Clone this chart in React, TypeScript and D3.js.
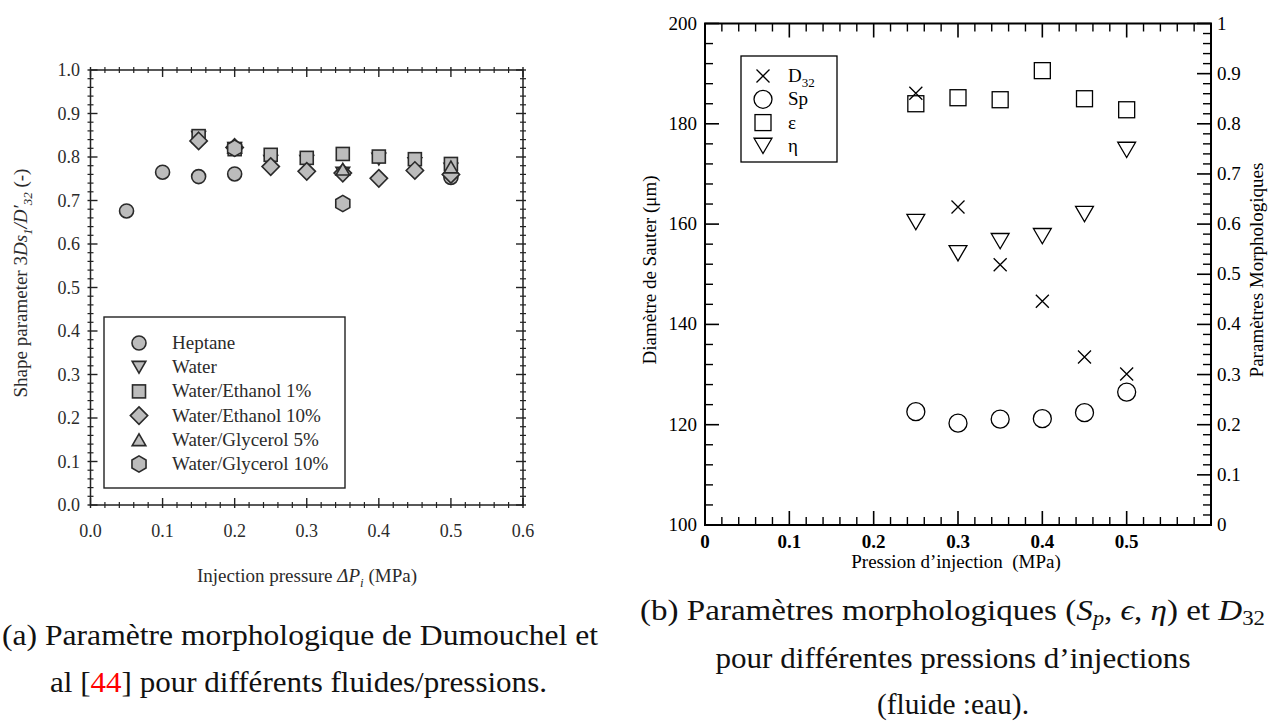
import React from 'react';
import * as d3 from 'd3';

// ---------- Data: chart (a) ----------
const heptaneX = [0.05, 0.1, 0.15, 0.2, 0.5];
const heptaneY = [0.676, 0.765, 0.755, 0.761, 0.753];
const waterX = [0.15, 0.2, 0.25, 0.3, 0.35, 0.4, 0.45, 0.5];
const waterY = [0.845, 0.82, 0.79, 0.79, 0.763, 0.795, 0.785, 0.772];
const ethanol1X = [0.15, 0.2, 0.25, 0.3, 0.35, 0.4, 0.45, 0.5];
const ethanol1Y = [0.848, 0.818, 0.805, 0.798, 0.807, 0.801, 0.795, 0.784];
const ethanol10X = [0.15, 0.2, 0.25, 0.3, 0.35, 0.4, 0.45, 0.5];
const ethanol10Y = [0.837, 0.822, 0.778, 0.767, 0.763, 0.751, 0.769, 0.76];
const glycerol5X = [0.2, 0.35, 0.5];
const glycerol5Y = [0.822, 0.772, 0.777];
const glycerol10X = [0.2, 0.35];
const glycerol10Y = [0.82, 0.693];
const legendA = ['Heptane', 'Water', 'Water/Ethanol 1%', 'Water/Ethanol 10%', 'Water/Glycerol 5%', 'Water/Glycerol 10%'];
const shapesA = ['circle', 'triDown', 'square', 'diamond', 'triUp', 'hexagon'];
const xTicksA = [0, 0.1, 0.2, 0.3, 0.4, 0.5, 0.6];
const yTicksA = [0, 0.1, 0.2, 0.3, 0.4, 0.5, 0.6, 0.7, 0.8, 0.9, 1.0];

// ---------- Data: chart (b) ----------
const pressureB = [0.25, 0.3, 0.35, 0.4, 0.45, 0.5];
const d32 = [186.1, 163.4, 151.9, 144.6, 133.5, 130.1];
const sp = [0.226, 0.203, 0.211, 0.212, 0.224, 0.265];
const eps = [0.84, 0.852, 0.848, 0.906, 0.85, 0.828];
const eta = [0.604, 0.542, 0.566, 0.576, 0.62, 0.748];
const xTicksB = [0, 0.1, 0.2, 0.3, 0.4, 0.5];
const yLeftTicksB = [100, 120, 140, 160, 180, 200];
const yRightTicksB = [0, 0.1, 0.2, 0.3, 0.4, 0.5, 0.6, 0.7, 0.8, 0.9, 1];

// ---------- Scales ----------
const xA = d3.scaleLinear().domain([0, 0.6]).range([90.5, 523]);
const yA = d3.scaleLinear().domain([0, 1]).range([505, 70]);
const xB = d3.scaleLinear().domain([0, 0.6]).range([705, 1211]);
const yBL = d3.scaleLinear().domain([100, 200]).range([525, 23.5]);
const yBR = d3.scaleLinear().domain([0, 1]).range([525, 23.5]);

const SERIF = "Liberation Serif, Times New Roman, serif";

function Marker({ shape, cx, cy, size, fill, stroke, sw }: any) {
  const s = size;
  let d = '';
  if (shape === 'circle') {
    return <circle cx={cx} cy={cy} r={s / 2} fill={fill} stroke={stroke} strokeWidth={sw} />;
  }
  if (shape === 'square') {
    return <rect x={cx - s / 2} y={cy - s / 2} width={s} height={s} fill={fill} stroke={stroke} strokeWidth={sw} />;
  }
  if (shape === 'diamond') {
    const h = s * 0.62;
    d = `M${cx},${cy - h}L${cx + h},${cy}L${cx},${cy + h}L${cx - h},${cy}Z`;
  } else if (shape === 'triUp') {
    const w = s * 1.05, h = s * 0.9;
    d = `M${cx - w / 2},${cy + h / 2}L${cx + w / 2},${cy + h / 2}L${cx},${cy - h / 2}Z`;
  } else if (shape === 'triDown') {
    const w = s * 1.05, h = s * 0.9;
    d = `M${cx - w / 2},${cy - h / 2}L${cx + w / 2},${cy - h / 2}L${cx},${cy + h / 2}Z`;
  } else if (shape === 'hexagon') {
    const r = s * 0.58;
    const pts = d3.range(6).map((i) => {
      const a = (Math.PI / 3) * i - Math.PI / 2;
      return [cx + r * Math.cos(a), cy + r * Math.sin(a)];
    });
    d = 'M' + pts.map((p) => p.join(',')).join('L') + 'Z';
  } else if (shape === 'cross') {
    const a = s / 2;
    d = `M${cx - a},${cy - a}L${cx + a},${cy + a}M${cx - a},${cy + a}L${cx + a},${cy - a}`;
    return <path d={d} fill="none" stroke={stroke} strokeWidth={sw} />;
  }
  return <path d={d} fill={fill} stroke={stroke} strokeWidth={sw} />;
}

function minorValues(start: number, end: number, step: number, majorStep: number) {
  const out: number[] = [];
  const n = Math.round((end - start) / step);
  for (let i = 0; i <= n; i++) {
    const v = start + i * step;
    const r = v / majorStep;
    if (Math.abs(r - Math.round(r)) > 1e-6) out.push(v);
  }
  return out;
}

function ChartA() {
  const stroke = '#222';
  const x0 = xA.range()[0], x1 = xA.range()[1];
  const y0 = yA.range()[0], y1 = yA.range()[1];
  const xMinor = minorValues(0, 0.6, 0.02, 0.1);
  const yMinor = minorValues(0, 1, 0.02, 0.1);
  const mk = { fill: '#bcbcbc', stroke: '#2a2a2a', sw: 1.6 };
  const sizesA: any = { circle: 14, triDown: 13, square: 13, diamond: 14, triUp: 13, hexagon: 14 };
  const series = [
    { x: heptaneX, y: heptaneY },
    { x: waterX, y: waterY },
    { x: ethanol1X, y: ethanol1Y },
    { x: ethanol10X, y: ethanol10Y },
    { x: glycerol5X, y: glycerol5Y },
    { x: glycerol10X, y: glycerol10Y },
  ];
  return (
    <g style={{ fontFamily: SERIF }} fill="#2b2b2b">
      <rect x={x0} y={y1} width={x1 - x0} height={y0 - y1} fill="none" stroke={stroke} strokeWidth={1.5} />
      {xTicksA.map((t) => (
        <g key={'xm' + t}>
          <line x1={xA(t)} x2={xA(t)} y1={y0 + 3} y2={y0 - 7} stroke={stroke} strokeWidth={1.4} />
          <line x1={xA(t)} x2={xA(t)} y1={y1 - 3} y2={y1 + 7} stroke={stroke} strokeWidth={1.4} />
          <text x={xA(t)} y={537} textAnchor="middle" fontSize={18}>{t.toFixed(1)}</text>
        </g>
      ))}
      {xMinor.map((t) => (
        <g key={'xn' + t}>
          <line x1={xA(t)} x2={xA(t)} y1={y0 + 3} y2={y0 - 3} stroke={stroke} strokeWidth={1.2} />
          <line x1={xA(t)} x2={xA(t)} y1={y1 - 3} y2={y1 + 3} stroke={stroke} strokeWidth={1.2} />
        </g>
      ))}
      {yTicksA.map((t) => (
        <g key={'ym' + t}>
          <line x1={x0 - 3} x2={x0 + 7} y1={yA(t)} y2={yA(t)} stroke={stroke} strokeWidth={1.4} />
          <line x1={x1 + 3} x2={x1 - 7} y1={yA(t)} y2={yA(t)} stroke={stroke} strokeWidth={1.4} />
          <text x={80} y={yA(t) + 6} textAnchor="end" fontSize={18}>{t.toFixed(1)}</text>
        </g>
      ))}
      {yMinor.map((t) => (
        <g key={'yn' + t}>
          <line x1={x0 - 3} x2={x0 + 3} y1={yA(t)} y2={yA(t)} stroke={stroke} strokeWidth={1.2} />
          <line x1={x1 + 3} x2={x1 - 3} y1={yA(t)} y2={yA(t)} stroke={stroke} strokeWidth={1.2} />
        </g>
      ))}
      <text x={307} y={582} textAnchor="middle" fontSize={19}>
        Injection pressure <tspan fontStyle="italic">ΔP</tspan><tspan fontStyle="italic" fontSize={13} dy={5}>i</tspan><tspan dy={-5}> (MPa)</tspan>
      </text>
      <text transform="translate(27,283) rotate(-90)" textAnchor="middle" fontSize={19}>
        Shape parameter  3<tspan fontStyle="italic">Ds</tspan><tspan fontStyle="italic" fontSize={13} dy={5}>1</tspan><tspan dy={-5} fontStyle="italic">/D′</tspan><tspan fontStyle="italic" fontSize={13} dy={5}>32</tspan><tspan dy={-5}> (-)</tspan>
      </text>
      {series.map((s, si) =>
        s.x.map((xv, i) => (
          <Marker key={si + '-' + i} shape={shapesA[si]} cx={xA(xv)} cy={yA(s.y[i])} size={sizesA[shapesA[si]]} {...mk} />
        ))
      )}
      <rect x={104} y={317} width={241} height={171} fill="white" stroke={stroke} strokeWidth={1.4} />
      {legendA.map((name, i) => (
        <g key={name}>
          <Marker shape={shapesA[i]} cx={139} cy={343 + i * 24.2} size={sizesA[shapesA[i]]} {...mk} />
          <text x={172} y={343 + i * 24.2 + 6} fontSize={19}>{name}</text>
        </g>
      ))}
    </g>
  );
}

function ChartB() {
  const stroke = '#000';
  const x0 = xB.range()[0], x1 = xB.range()[1];
  const y0 = yBL.range()[0], y1 = yBL.range()[1];
  const xMajor = [0, 0.1, 0.2, 0.3, 0.4, 0.5, 0.6];
  const xMinor = minorValues(0, 0.6, 0.02, 0.1);
  const yLMinor = minorValues(100, 200, 4, 20);
  const yRMinor = minorValues(0, 1, 0.02, 0.1);
  const mk = { fill: 'none', stroke: '#000', sw: 1.3 };
  const legendB = [
    { shape: 'cross', size: 13 },
    { shape: 'circle', size: 18 },
    { shape: 'square', size: 16 },
    { shape: 'triDown', size: 17 },
  ];
  return (
    <g style={{ fontFamily: SERIF }} fill="#000">
      {xMajor.map((t) => (
        <g key={'xm' + t}>
          <line x1={xB(t)} x2={xB(t)} y1={y0} y2={y0 - 14} stroke={stroke} strokeWidth={1.6} />
          <line x1={xB(t)} x2={xB(t)} y1={y1} y2={y1 + 14} stroke={stroke} strokeWidth={1.6} />
        </g>
      ))}
      {xTicksB.map((t) => (
        <text key={'xl' + t} x={xB(t)} y={548} textAnchor="middle" fontSize={19} fontWeight="bold">{t === 0 ? '0' : t.toFixed(1)}</text>
      ))}
      {xMinor.map((t) => (
        <g key={'xn' + t}>
          <line x1={xB(t)} x2={xB(t)} y1={y0} y2={y0 - 8} stroke={stroke} strokeWidth={1.4} />
          <line x1={xB(t)} x2={xB(t)} y1={y1} y2={y1 + 8} stroke={stroke} strokeWidth={1.4} />
        </g>
      ))}
      {yLeftTicksB.map((t) => (
        <g key={'yl' + t}>
          <line x1={x0} x2={x0 + 14} y1={yBL(t)} y2={yBL(t)} stroke={stroke} strokeWidth={1.6} />
          <text x={697} y={yBL(t) + 6} textAnchor="end" fontSize={19}>{t}</text>
        </g>
      ))}
      {yLMinor.map((t) => (
        <line key={'yln' + t} x1={x0} x2={x0 + 8} y1={yBL(t)} y2={yBL(t)} stroke={stroke} strokeWidth={1.4} />
      ))}
      {yRightTicksB.map((t) => (
        <g key={'yr' + t}>
          <line x1={x1} x2={x1 - 14} y1={yBR(t)} y2={yBR(t)} stroke={stroke} strokeWidth={1.6} />
          <text x={1217} y={yBR(t) + 6} textAnchor="start" fontSize={19}>{t === 0 || t === 1 ? String(t) : t.toFixed(1)}</text>
        </g>
      ))}
      {yRMinor.map((t) => (
        <line key={'yrn' + t} x1={x1} x2={x1 - 8} y1={yBR(t)} y2={yBR(t)} stroke={stroke} strokeWidth={1.4} />
      ))}
      <rect x={x0} y={y1} width={x1 - x0} height={y0 - y1} fill="none" stroke={stroke} strokeWidth={2} />
      <text x={956} y={568} textAnchor="middle" fontSize={19}>Pression d’injection{'\u00A0\u00A0'}(MPa)</text>
      <text transform="translate(656,270) rotate(-90)" textAnchor="middle" fontSize={19}>Diamètre de Sauter (μm)</text>
      <text transform="translate(1263,270) rotate(-90)" textAnchor="middle" fontSize={19}>Paramètres Morphologiques</text>
      {pressureB.map((p, i) => (
        <Marker key={'e' + i} shape="square" cx={xB(p)} cy={yBR(eps[i])} size={16} {...mk} />
      ))}
      {pressureB.map((p, i) => (
        <Marker key={'n' + i} shape="triDown" cx={xB(p)} cy={yBR(eta[i])} size={17} {...mk} />
      ))}
      {pressureB.map((p, i) => (
        <Marker key={'s' + i} shape="circle" cx={xB(p)} cy={yBR(sp[i])} size={18} {...mk} />
      ))}
      {pressureB.map((p, i) => (
        <Marker key={'d' + i} shape="cross" cx={xB(p)} cy={yBL(d32[i])} size={13} {...mk} />
      ))}
      <rect x={741} y={56} width={96} height={106} fill="white" stroke={stroke} strokeWidth={1.3} />
      {legendB.map((l, i) => (
        <Marker key={'lb' + i} shape={l.shape} cx={763} cy={76 + i * 23.3} size={l.size} {...mk} />
      ))}
      <text x={788} y={76 + 6} fontSize={19}>D<tspan fontSize={13} dy={5}>32</tspan></text>
      <text x={788} y={76 + 23.3 + 6} fontSize={19}>Sp</text>
      <text x={788} y={76 + 2 * 23.3 + 6} fontSize={19}>ε</text>
      <text x={788} y={76 + 3 * 23.3 + 6} fontSize={19}>η</text>
    </g>
  );
}

function Captions() {
  const f = { fontSize: 29, fill: '#111', style: { fontFamily: SERIF } };
  return (
    <g>
      <text x={2} y={645} {...f} textLength={596} lengthAdjust="spacingAndGlyphs">(a) Paramètre morphologique de Dumouchel et</text>
      <text x={50} y={692} {...f} textLength={497} lengthAdjust="spacingAndGlyphs">
        al [<tspan fill="#ff0000">44</tspan>] pour différents fluides/pressions.
      </text>
      <text x={640} y={620} {...f} textLength={625} lengthAdjust="spacingAndGlyphs">
        (b) Paramètres morphologiques (<tspan fontStyle="italic">S</tspan><tspan fontStyle="italic" fontSize={20} dy={5}>p</tspan><tspan dy={-5}>, </tspan><tspan fontStyle="italic">ϵ</tspan>, <tspan fontStyle="italic">η</tspan>) et <tspan fontStyle="italic">D</tspan><tspan fontSize={20} dy={5}>32</tspan>
      </text>
      <text x={953} y={668} {...f} textAnchor="middle" textLength={475} lengthAdjust="spacingAndGlyphs">pour différentes pressions d’injections</text>
      <text x={953} y={714} {...f} textAnchor="middle" textLength={152} lengthAdjust="spacingAndGlyphs">(fluide :eau).</text>
    </g>
  );
}

export default function App() {
  return (
    <svg width={1268} height={722} style={{ position: 'absolute', left: 0, top: 0, background: '#fff' }}>
      <rect width={1268} height={722} fill="#fff" />
      <ChartA />
      <ChartB />
      <Captions />
    </svg>
  );
}
